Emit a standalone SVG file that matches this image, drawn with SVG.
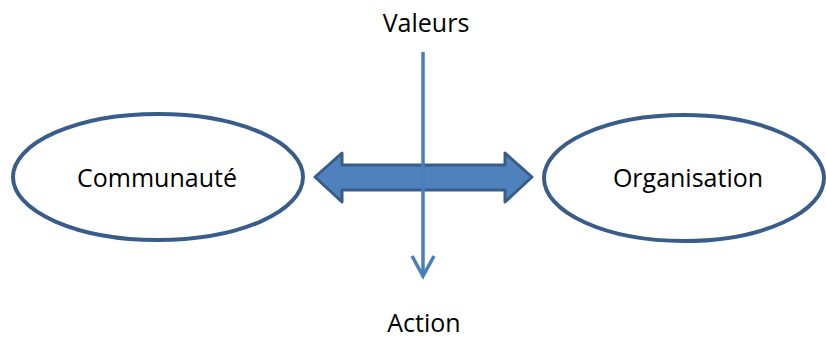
<svg xmlns="http://www.w3.org/2000/svg" width="826" height="338" viewBox="0 0 826 338">
<defs>
<style>
.node{fill:#fff;stroke:#385D8A;stroke-width:4}
.lbl{font-family:"Open Sans","Liberation Sans",sans-serif;font-size:25px;fill:#000;text-anchor:middle}
</style>
</defs>
<rect width="826" height="338" fill="#fff"/>
<g id="communaute">
<ellipse class="node" cx="158" cy="177" rx="145" ry="63"/>
<text class="lbl" x="157" y="187">Communauté</text>
</g>
<g id="organisation">
<ellipse class="node" cx="684" cy="178" rx="140" ry="63"/>
<text class="lbl" x="688" y="187">Organisation</text>
</g>
<g id="valeurs">
<text class="lbl" x="426" y="32">Valeurs</text>
</g>
<g id="action">
<text class="lbl" x="424" y="332">Action</text>
</g>
<g id="connectors">
<path d="M315,177 L342,153 L342,165 L505,165 L505,153 L532,177 L505,202 L505,190 L342,190 L342,202 Z" fill="#4F81BD" stroke="#385D8A" stroke-width="3" stroke-linejoin="round"/>
<line x1="423" y1="52" x2="423" y2="276" stroke="#4A7EBB" stroke-width="3.5"/>
<path d="M412,256 L423,276 L434,256" fill="none" stroke="#4A7EBB" stroke-width="3.5"/>
</g>
</svg>
